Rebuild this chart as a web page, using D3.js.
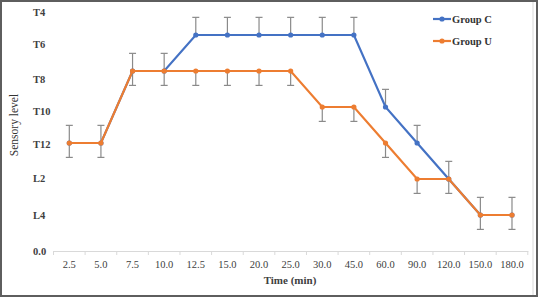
<!DOCTYPE html>
<html>
<head>
<meta charset="utf-8">
<script src="https://cdn.jsdelivr.net/npm/d3@7"></script>
<style>
  body { margin: 0; background: #fff; }
  svg { display: block; }
</style>
</head>
<body>
<svg id="chart" width="538" height="297"></svg>
<script>
// Time points (categorical x axis)
const times = ["2.5", "5.0", "7.5", "10.0", "12.5", "15.0", "20.0", "25.0", "30.0", "45.0", "60.0", "90.0", "120.0", "150.0", "180.0"];
// Sensory level coded 0..7 : 0.0, L4, L2, T12, T10, T8, T6, T4
const levelLabels = ["0.0", "L4", "L2", "T12", "T10", "T8", "T6", "T4"];
// where the (hand-placed) tick labels sit on the level scale
const levelTicks = [0, 1, 2.03, 2.96, 3.88, 4.77, 5.74, 6.62];
const groupC = [3, 3, 5, 5, 6, 6, 6, 6, 6, 6, 4, 3, 2, 1, 1];
const groupU = [3, 3, 5, 5, 5, 5, 5, 5, 4, 4, 3, 2, 2, 1, 1];
const errC = 0.49;  // upper bars only
const errU = 0.4;   // lower bars only

const svg = d3.select("#chart");
const W = 538, H = 297;
const blue = "#4472c4", orange = "#ed7d31", barCol = "#8a8a8a";
const serif = "'Liberation Serif', 'Times New Roman', serif";

// frame
svg.append("rect").attr("x", 1).attr("y", 1).attr("width", W - 2).attr("height", H - 2)
  .attr("fill", "#fff").attr("stroke", "#5e5e5e").attr("stroke-width", 2);
svg.append("line").attr("x1", 533).attr("x2", 533).attr("y1", 2).attr("y2", H - 2)
  .attr("stroke", "#d9d9d9").attr("stroke-width", 1);

const x = d3.scaleBand().domain(times).range([53.5, 527.8]).padding(0);
const y = d3.scaleLinear().domain([0, 7]).range([251, -1]);
const cx = d => x(d) + x.bandwidth() / 2;

// x axis
const xAxis = svg.append("g").attr("transform", "translate(0,251)")
  .call(d3.axisBottom(x).tickSize(0).tickPadding(10));
xAxis.select(".domain").attr("stroke", "#d9d9d9");
xAxis.selectAll("text").attr("font-family", serif).attr("font-size", 10.5).attr("fill", "#404040");
svg.append("g").selectAll("line").data(times.concat([null])).join("line")
  .attr("x1", d => d === null ? x.range()[1] : x(d))
  .attr("x2", d => d === null ? x.range()[1] : x(d))
  .attr("y1", 251).attr("y2", 255).attr("stroke", "#d9d9d9");

// y labels
svg.append("g").selectAll("text").data(levelLabels).join("text")
  .attr("x", 33).attr("y", (d, i) => y(levelTicks[i])).attr("dy", "0.35em")
  .attr("font-family", serif).attr("font-size", 10.5).attr("font-weight", "bold")
  .attr("fill", "#404040").text(d => d);

// axis titles
svg.append("text").attr("transform", "translate(18,125) rotate(-90)")
  .attr("text-anchor", "middle").attr("font-family", serif).attr("font-size", 11.5)
  .attr("fill", "#333").text("Sensory level");
svg.append("text").attr("x", 290).attr("y", 284)
  .attr("text-anchor", "middle").attr("font-family", serif).attr("font-size", 11)
  .attr("font-weight", "bold").attr("fill", "#404040").text("Time (min)");

// error bars
function bars(vals, err, dir) {
  const g = svg.append("g").attr("stroke", barCol).attr("stroke-width", 1.2);
  vals.forEach((v, i) => {
    const px = cx(times[i]), y0 = y(v), y1 = y(v + dir * err);
    g.append("line").attr("x1", px).attr("x2", px).attr("y1", y0).attr("y2", y1);
    g.append("line").attr("x1", px - 3.5).attr("x2", px + 3.5).attr("y1", y1).attr("y2", y1);
  });
}
bars(groupC, errC, 1);
bars(groupU, errU, -1);

// lines + markers
const line = d3.line().x((d, i) => cx(times[i])).y(d => y(d));
[[groupC, blue], [groupU, orange]].forEach(([vals, col]) => {
  svg.append("path").datum(vals).attr("d", line)
    .attr("fill", "none").attr("stroke", col).attr("stroke-width", 2.2);
  svg.append("g").selectAll("circle").data(vals).join("circle")
    .attr("cx", (d, i) => cx(times[i])).attr("cy", d => y(d)).attr("r", 2.6).attr("fill", col);
});

// legend
const legend = [["Group C", blue], ["Group U", orange]];
legend.forEach(([name, col], i) => {
  const ly = 19 + i * 22;
  svg.append("line").attr("x1", 433).attr("x2", 451).attr("y1", ly).attr("y2", ly)
    .attr("stroke", col).attr("stroke-width", 2.2);
  svg.append("circle").attr("cx", 442).attr("cy", ly).attr("r", 2.6).attr("fill", col);
  svg.append("text").attr("x", 452).attr("y", ly).attr("dy", "0.35em")
    .attr("font-family", serif).attr("font-size", 10.5).attr("font-weight", "bold")
    .attr("fill", "#333").text(name);
});
</script>
</body>
</html>
